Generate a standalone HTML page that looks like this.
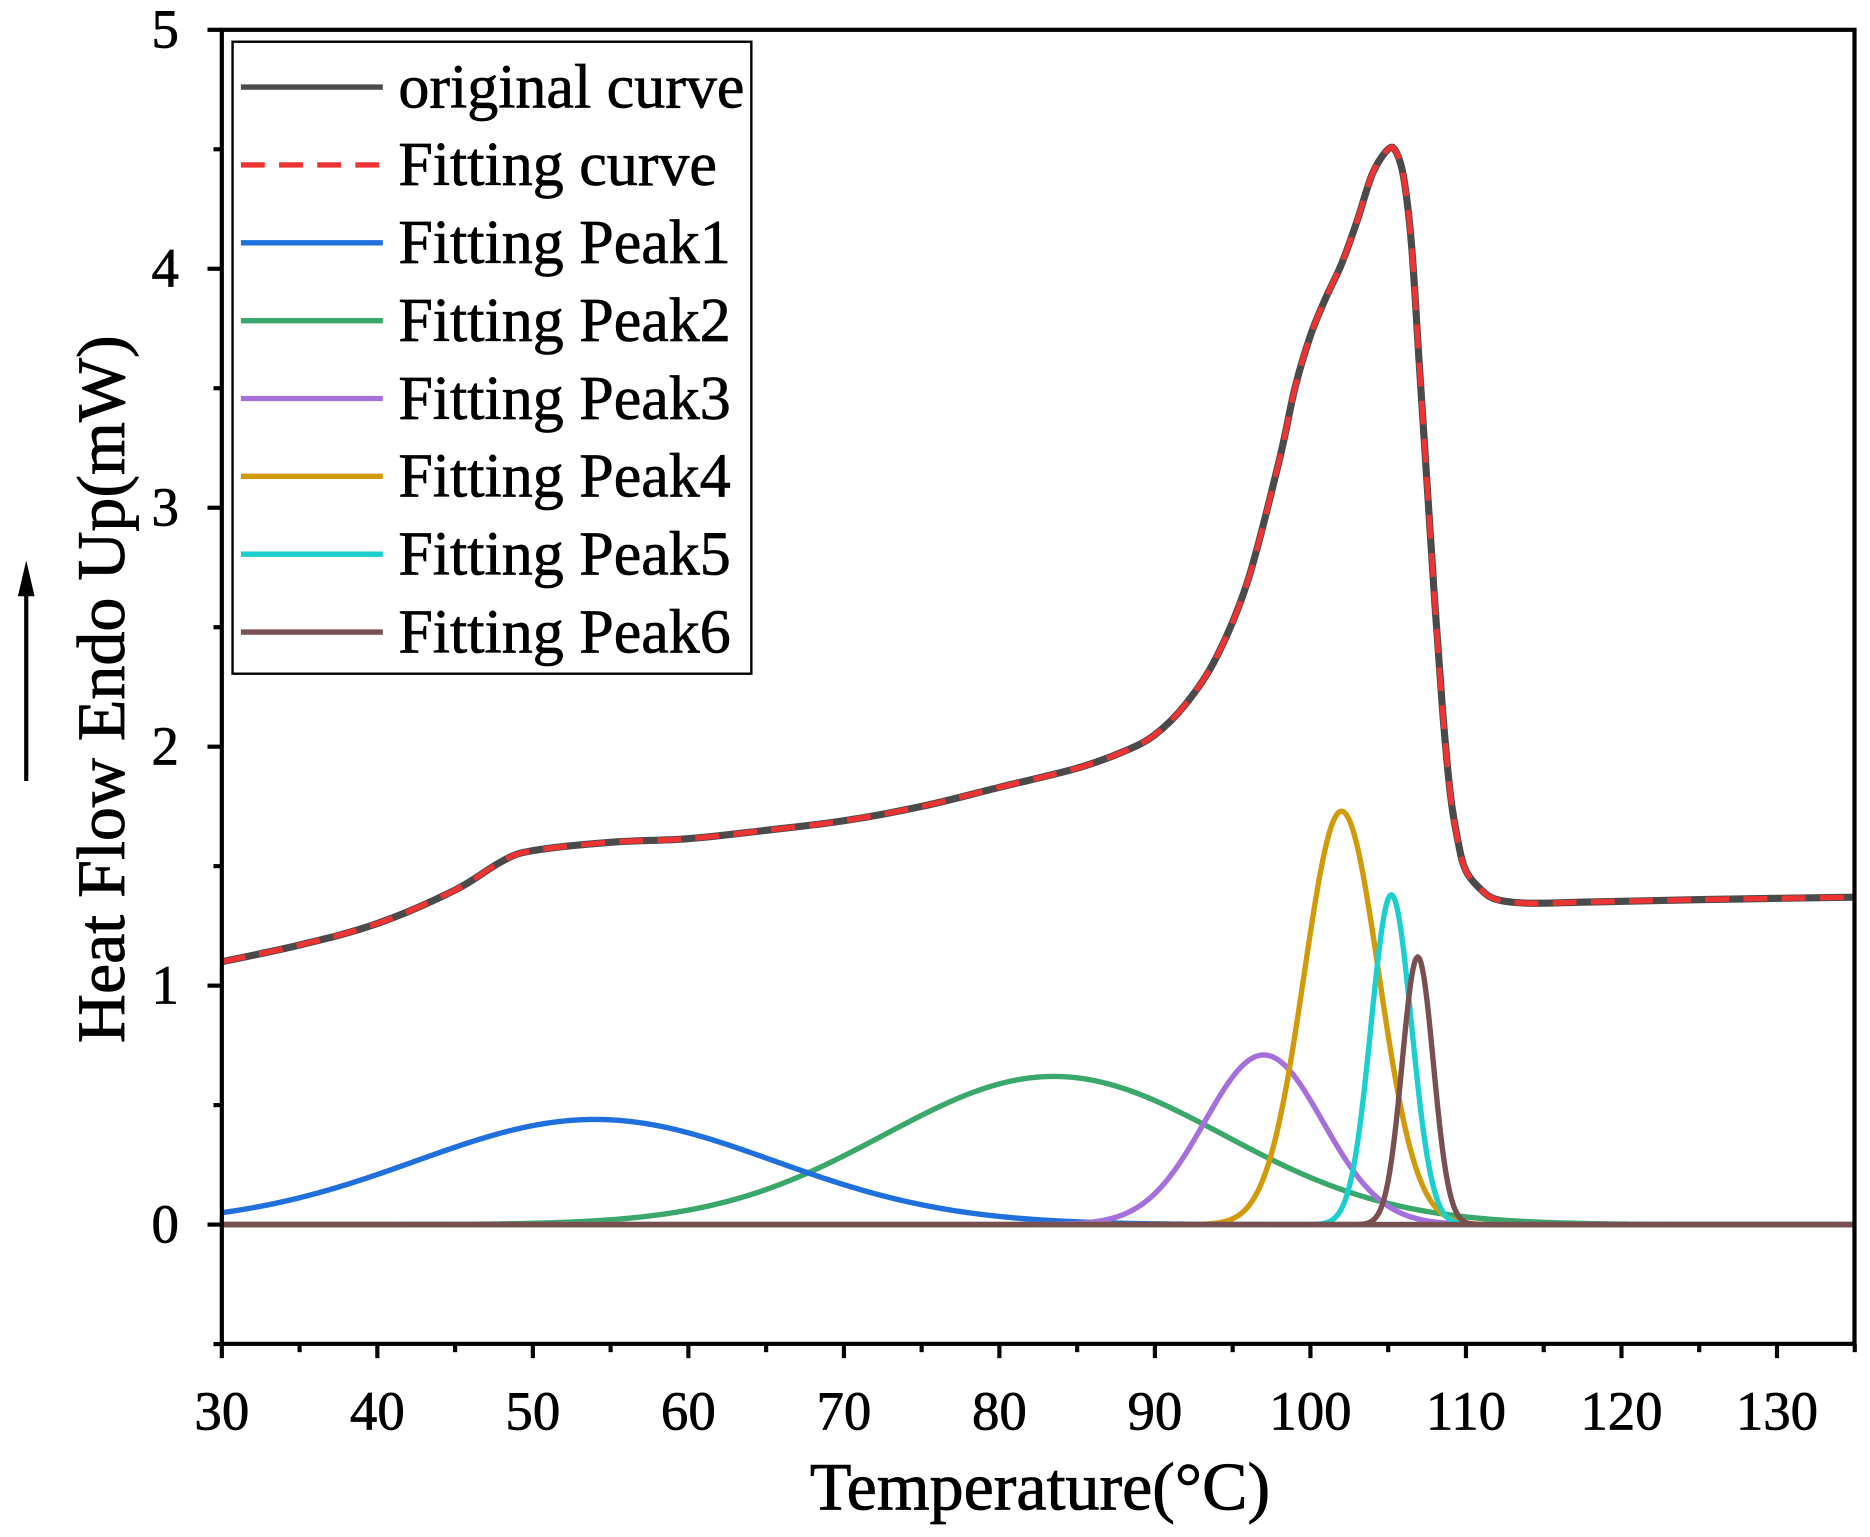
<!DOCTYPE html>
<html><head><meta charset="utf-8"><style>html,body{margin:0;padding:0;background:#fff}svg{display:block}</style></head>
<body>
<svg id="s" width="1870" height="1537" viewBox="0 0 1568 1289" preserveAspectRatio="none" xmlns="http://www.w3.org/2000/svg" font-family="'Liberation Serif',serif">
<g id="curves" fill="none" stroke-linejoin="round" stroke-linecap="butt"></g>
<rect x="186" y="25" width="1369" height="1102" fill="none" stroke="#000" stroke-width="3.5"/>
<g id="ticks" stroke="#000" stroke-width="3.5"></g>
<g id="labels" font-size="46" fill="#000" stroke="#000" stroke-width="0.6"></g>
<text x="872" y="1266" font-size="57" text-anchor="middle" stroke="#000" stroke-width="0.7">Temperature(°C)</text>
<text transform="translate(104,578) rotate(-90)" font-size="57" text-anchor="middle" stroke="#000" stroke-width="0.7">Heat Flow Endo Up(mW)</text>
<line x1="22" y1="655" x2="22" y2="495" stroke="#000" stroke-width="3.5"/>
<polygon points="22,470 15,500 29,500" fill="#000"/>
<rect x="195" y="35" width="435" height="530" fill="#fff" stroke="#000" stroke-width="2"/>
<g id="legend" font-size="52" stroke-width="0"></g>
</svg>
<script>
const X=t=>186+13.04*(t-30), Y=v=>1027-200.4*v;
const NS="http://www.w3.org/2000/svg";
function el(p,tag,a,txt){const e=document.createElementNS(NS,tag);for(const k in a)e.setAttribute(k,a[k]);if(txt!=null)e.textContent=txt;document.getElementById(p).appendChild(e);return e;}
for(let t=30;t<=135;t+=5){const maj=t%10==0;el("ticks","line",{x1:X(t),y1:1127,x2:X(t),y2:1127+(maj?12:7)});if(maj&&t<=130)el("labels","text",{x:X(t),y:1199,"text-anchor":"middle"},t);}
for(let v=-0.5;v<=5.001;v+=0.5){const maj=Math.abs(v-Math.round(v))<1e-6;el("ticks","line",{x1:186,y1:Y(v),x2:186-(maj?12:7),y2:Y(v)});if(maj)el("labels","text",{x:150,y:Y(v)+15,"text-anchor":"end"},Math.round(v));}
const pts=[[30,1.1],[35,1.17],[40,1.26],[45,1.4],[48,1.52],[50,1.565],[55,1.6],[60,1.615],[65,1.65],[70,1.69],[75,1.75],[80,1.83],[85,1.91],[88,1.98],[90,2.05],[92,2.18],[94,2.38],[96,2.7],[98,3.2],[99,3.5],[100,3.72],[101,3.88],[102,4.02],[103,4.2],[104,4.4],[105,4.5],[105.5,4.49],[106,4.38],[106.5,4.1],[107,3.6],[107.5,3.1],[108,2.6],[108.5,2.15],[109,1.8],[109.5,1.6],[110,1.48],[111,1.4],[112,1.36],[114,1.345],[118,1.35],[125,1.36],[135,1.37]];
function cr(P){const p=P.map(a=>[X(a[0]),Y(a[1])]);let d="M"+p[0][0]+","+p[0][1];for(let i=0;i<p.length-1;i++){const p0=p[i-1]||p[i],p1=p[i],p2=p[i+1],p3=p[i+2]||p2;d+=` C${p1[0]+(p2[0]-p0[0])/6},${p1[1]+(p2[1]-p0[1])/6} ${p2[0]-(p3[0]-p1[0])/6},${p2[1]-(p3[1]-p1[1])/6} ${p2[0]},${p2[1]}`;}return d;}
const peaks=[["#1f6fdc",54,0.44,11.5],["#3aa86a",83.5,0.62,10.9],["#a56fdc",97,0.71,3.8],["#d09a0a",102,1.73,2.4],["#1ccfcf",105.2,1.38,1.3],["#7a4f4f",106.9,1.12,1.0]];
const order=[1,0,2,3,4,5];
for(const i of order){const [c,m,h,s]=peaks[i];let d="";for(let t=30;t<=135;t+=0.1){const v=h*Math.exp(-(t-m)*(t-m)/(2*s*s));d+=(d?"L":"M")+X(t).toFixed(2)+","+Y(v).toFixed(2);}el("curves","path",{d,stroke:c,"stroke-width":4.5});}
el("curves","line",{x1:186,y1:Y(0),x2:1555,y2:Y(0),stroke:"#7a4f4f","stroke-width":4.5});
const d=cr(pts);
el("curves","path",{d,stroke:"#4a4a4a","stroke-width":6});
el("curves","path",{d,stroke:"#ee3333","stroke-width":4.5,"stroke-dasharray":"20 12"});
const L=[["original curve","#4a4a4a",0],["Fitting curve","#ee3333",1],["Fitting Peak1","#1f6fdc",0],["Fitting Peak2","#3aa86a",0],["Fitting Peak3","#a56fdc",0],["Fitting Peak4","#d09a0a",0],["Fitting Peak5","#1ccfcf",0],["Fitting Peak6","#7a4f4f",0]];
L.forEach((l,i)=>{const y=73+i*65.3;const a={x1:202,y1:y,x2:321,y2:y,stroke:l[1],"stroke-width":4.5};if(l[2])a["stroke-dasharray"]="20 12";el("legend","line",a);el("legend","text",{x:334,y:y+17,stroke:"#000","stroke-width":0.6},l[0]);});
</script>
</body></html>
